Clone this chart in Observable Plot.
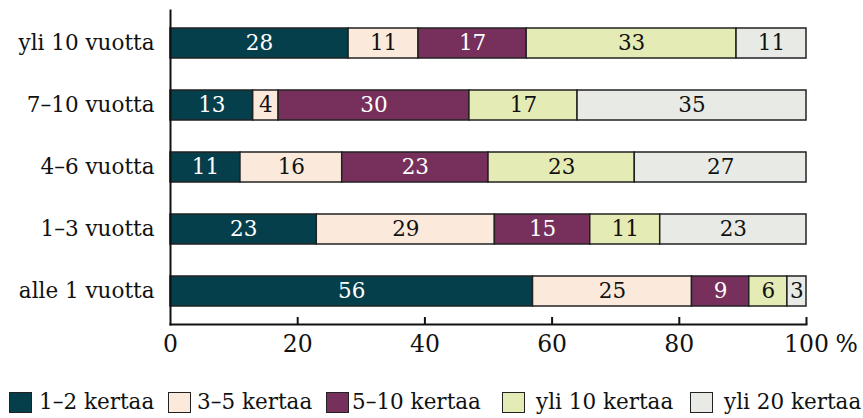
<!DOCTYPE html>
<html>
<head>
<meta charset="utf-8">
<script src="https://cdn.jsdelivr.net/npm/d3@7"></script>
<script src="https://cdn.jsdelivr.net/npm/@observablehq/plot@0.6"></script>
<style>
  body { margin: 0; background: #fff; font-family: "DejaVu Serif", serif; }
  #wrap { position: relative; width: 863px; height: 418px; }
  #legend { position: absolute; left: 0; top: 392px; width: 863px; height: 24px; font-size: 21.5px; color: #111; }
  .sw { position: absolute; top: 0; width: 23px; height: 21px; border: 1.5px solid #222; box-sizing: border-box; }
  .lb { position: absolute; top: -3px; white-space: nowrap; }
</style>
</head>
<body>
<div id="wrap"><div id="chart"></div><div id="legend"></div></div>
<script>
const categories = ["yli 10 vuotta", "7–10 vuotta", "4–6 vuotta", "1–3 vuotta", "alle 1 vuotta"];
const series = ["1–2 kertaa", "3–5 kertaa", "5–10 kertaa", "yli 10 kertaa", "yli 20 kertaa"];
const colors = ["#053f4b", "#fbe9dc", "#76305b", "#e5ebb4", "#e8ebe5"];
const labelColors = ["#fff", "#111", "#fff", "#111", "#111"];

// bar widths (%), in category order
const share12 = [28, 13, 11, 23, 57];
const share35 = [11, 4, 16, 28, 25];
const share510 = [17, 30, 23, 15, 9];
const share10 = [33, 17, 23, 11, 6];
const share20 = [11, 36, 27, 23, 3];

// printed labels, in category order
const label12 = [28, 13, 11, 23, 56];
const label35 = [11, 4, 16, 29, 25];
const label510 = [17, 30, 23, 15, 9];
const label10 = [33, 17, 23, 11, 6];
const label20 = [11, 35, 27, 23, 3];

const xTicks = [0, 20, 40, 60, 80, 100];
const xUnit = "%";

const shares = [share12, share35, share510, share10, share20];
const labels = [label12, label35, label510, label10, label20];
const rows = [];
series.forEach((s, si) => categories.forEach((c, ci) => {
  rows.push({category: c, series: s, value: shares[si][ci], label: labels[si][ci], order: si});
}));

const stackOpts = {x: "value", y: "category", order: series};

const chart = Plot.plot({
  width: 863,
  height: 365,
  marginLeft: 170,
  marginRight: 57,
  marginTop: 10,
  marginBottom: 41,
  style: {fontFamily: "DejaVu Serif, serif", background: "#fff", color: "#111"},
  x: {domain: [0, 100], axis: null},
  y: {domain: categories, paddingInner: 0.524, paddingOuter: 0.262, axis: null},
  color: {domain: series, range: colors},
  marks: [
    Plot.barX(rows, Plot.stackX({...stackOpts, fill: "series", stroke: "#222", strokeWidth: 1.5})),
    Plot.text(rows, Plot.stackX({...stackOpts, text: "label", fill: d => labelColors[d.order], fontSize: 21.5})),
    Plot.axisY({tickSize: 0, tickPadding: 16, fontSize: 21.5, fill: "#111", label: null}),
    Plot.axisX({ticks: xTicks, tickSize: 0, tickPadding: 11, fontSize: 23.5, fill: "#111", label: null}),
    Plot.ruleX(xTicks.slice(1), {x: d => d, stroke: "#111", strokeWidth: 2, insetTop: 307}),
    Plot.text([100], {x: d => d, text: () => xUnit, frameAnchor: "bottom", lineAnchor: "top", dy: 11, dx: 29, textAnchor: "start", fontSize: 23.5, fill: "#111"}),
    Plot.frame({anchor: "left", stroke: "#111", strokeWidth: 2}),
    Plot.frame({anchor: "bottom", stroke: "#111", strokeWidth: 2})
  ]
});
document.getElementById("chart").appendChild(chart);

const swLeft = [9, 168, 326, 502, 690];
const lbLeft = [39, 197, 352, 536, 724];
const legend = document.getElementById("legend");
series.forEach((s, i) => {
  const sw = document.createElement("div");
  sw.className = "sw";
  sw.style.left = swLeft[i] + "px";
  sw.style.background = colors[i];
  legend.appendChild(sw);
  const lb = document.createElement("div");
  lb.className = "lb";
  lb.style.left = lbLeft[i] + "px";
  lb.textContent = s;
  legend.appendChild(lb);
});
</script>
</body>
</html>
